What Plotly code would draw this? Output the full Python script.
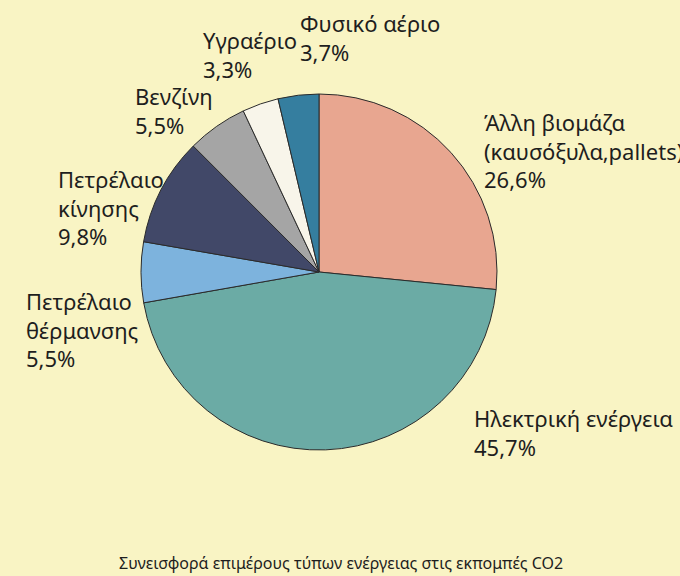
import plotly.graph_objects as go

categories = ["Άλλη βιομάζα<br>(καυσόξυλα,pallets)", "Ηλεκτρική ενέργεια", "Πετρέλαιο<br>θέρμανσης",
              "Πετρέλαιο<br>κίνησης", "Βενζίνη", "Υγραέριο", "Φυσικό αέριο"]
values = [26.6, 45.7, 5.5, 9.8, 5.5, 3.3, 3.7]
value_labels = ["26,6%", "45,7%", "5,5%", "9,8%", "5,5%", "3,3%", "3,7%"]
colors = ["#E8A690", "#6BABA5", "#7DB3DD", "#414868", "#A5A5A5", "#F8F5EA", "#357E9F"]
title_text = "Συνεισφορά επιμέρους τύπων ενέργειας στις εκπομπές CO2"

W, H = 680, 576
# label anchor positions in pixels (left edge, vertical center of text block)
label_pos = [(482, 150), (472, 432), (24, 329), (56, 207), (133, 110), (201, 54), (298, 37)]

cx, cy, r = 319, 272, 178

fig = go.Figure(go.Pie(
    labels=categories, values=values, sort=False, direction="clockwise", rotation=0,
    marker=dict(colors=colors, line=dict(color="#2b2b2b", width=1)),
    textinfo="none", hoverinfo="label+percent", showlegend=False,
    domain=dict(x=[(cx - r) / W, (cx + r) / W], y=[(H - cy - r) / H, (H - cy + r) / H]),
))

for cat, vl, (px, py) in zip(categories, value_labels, label_pos):
    fig.add_annotation(x=px / W, y=1 - py / H, xref="paper", yref="paper",
                       text=cat + "<br>" + vl, showarrow=False, align="left",
                       xanchor="left", yanchor="middle",
                       font=dict(family="Noto Sans", size=22, color="#1e1e1e"))

fig.add_annotation(x=341 / W, y=1 - 563 / H, xref="paper", yref="paper", text=title_text,
                   showarrow=False, xanchor="center", yanchor="middle",
                   font=dict(family="Noto Sans", size=16, color="#1e1e1e"))

fig.update_layout(width=W, height=H, margin=dict(l=0, r=0, t=0, b=0),
                  paper_bgcolor="#F9F4C4", plot_bgcolor="#F9F4C4")
fig.write_html("out.html", config={"displayModeBar": False},
               post_script="document.body.style.margin='0';document.body.style.overflow='hidden';"
                           "document.documentElement.style.overflow='hidden';")
